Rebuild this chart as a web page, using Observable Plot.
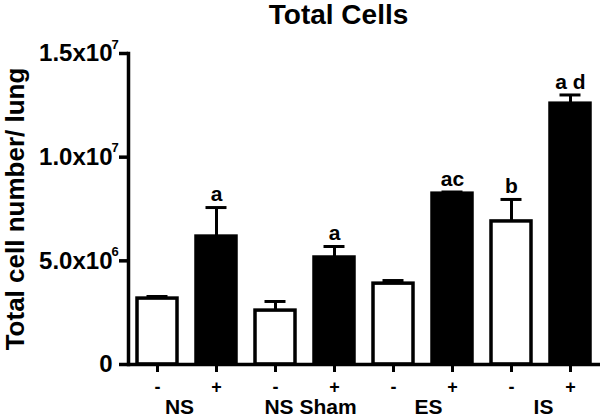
<!DOCTYPE html>
<html>
<head>
<meta charset="utf-8">
<script src="https://cdn.jsdelivr.net/npm/d3@7"></script>
<script src="https://cdn.jsdelivr.net/npm/@observablehq/plot@0.6"></script>
<style>
  html, body { margin: 0; padding: 0; background: #fff; }
  svg { font-family: "Liberation Sans", Arial, sans-serif; font-weight: bold; }
</style>
</head>
<body>
<div id="chart"></div>
<script>
const keys = ["NS-", "NS+", "Sham-", "Sham+", "ES-", "ES+", "IS-", "IS+"];
const signs = ["-", "+", "-", "+", "-", "+", "-", "+"];
const means = [3.18e6, 6.17e6, 2.6e6, 5.16e6, 3.9e6, 8.24e6, 6.9e6, 12.58e6];
const sems = [0.1e6, 1.4e6, 0.44e6, 0.53e6, 0.15e6, 0.08e6, 1.06e6, 0.42e6];
const letters = ["", "a", "", "a", "", "ac", "b", "a d"];
const groups = ["NS", "NS Sham", "ES", "IS"];
const yTicks = [0, 5e6, 1e7, 1.5e7];
const yTickBase = ["0", "5.0x10", "1.0x10", "1.5x10"];
const yTickExp = ["", "6", "7", "7"];

const data = keys.map((k, i) => ({key: k, sign: signs[i], mean: means[i], sem: sems[i], letter: letters[i]}));
const errTop = d => d.mean + d.sem;
const labelShift = [22, 35, 35, 32];

const chart = Plot.plot({
  width: 601,
  height: 417,
  marginLeft: 128,
  marginRight: 1,
  marginTop: 53,
  marginBottom: 53,
  x: {domain: keys, paddingInner: 0.32, paddingOuter: 0.16, axis: null},
  y: {domain: [0, 1.5e7], axis: null},
  marks: [
    Plot.barY(data.filter(d => d.sign === "-"), {x: "key", y: "mean", fill: "white", stroke: "black", strokeWidth: 3.5}),
    Plot.barY(data.filter(d => d.sign === "+"), {x: "key", y: "mean", fill: "black", stroke: "black", strokeWidth: 3.5}),
    Plot.ruleX(data, {x: "key", y1: "mean", y2: errTop, stroke: "black", strokeWidth: 3}),
    Plot.tickY(data, {x: "key", y: errTop, stroke: "black", strokeWidth: 3, insetLeft: 9.5, insetRight: 9.5}),
    Plot.text(data, {x: "key", y: errTop, text: "letter", dy: -13, fontSize: 21, fontWeight: "bold", fill: "black"}),
    Plot.ruleY([0], {stroke: "black", strokeWidth: 3.5}),
    Plot.frame({anchor: "left", stroke: "black", strokeWidth: 3.5}),
    Plot.axisY({ticks: yTicks, tickFormat: d => yTickBase[yTicks.indexOf(d)], tickSize: 9, tickPadding: 7, strokeWidth: 3.5, fontSize: 24, fontWeight: "bold", label: null, fill: "black", stroke: "black"}),
    Plot.text(yTicks, {y: d => d, text: (d, i) => yTickExp[i], frameAnchor: "left", textAnchor: "start", dx: -17, dy: -9, fontSize: 13, fontWeight: "bold", fill: "black"}),
    Plot.axisX({ticks: keys, tickFormat: d => signs[keys.indexOf(d)], tickSize: 8, tickPadding: 8, strokeWidth: 3, fontSize: 18, fontWeight: "bold", label: null, fill: "black", stroke: "black"}),
    ...groups.map((g, i) => Plot.text([g], {x: () => keys[2 * i], text: d => d, frameAnchor: "bottom", dx: labelShift[i], dy: 43, lineAnchor: "middle", fontSize: 21, fontWeight: "bold", fill: "black"})),
    Plot.text(["Total Cells"], {frameAnchor: "top", text: d => d, dx: -26, dy: -38, lineAnchor: "middle", fontSize: 28, fontWeight: "bold", fill: "black"}),
    Plot.text(["Total cell number/ lung"], {frameAnchor: "left", textAnchor: "middle", text: d => d, rotate: -90, dx: -113, lineAnchor: "middle", fontSize: 26, fontWeight: "bold", fill: "black"})
  ]
});
document.getElementById("chart").appendChild(chart);
</script>
</body>
</html>
